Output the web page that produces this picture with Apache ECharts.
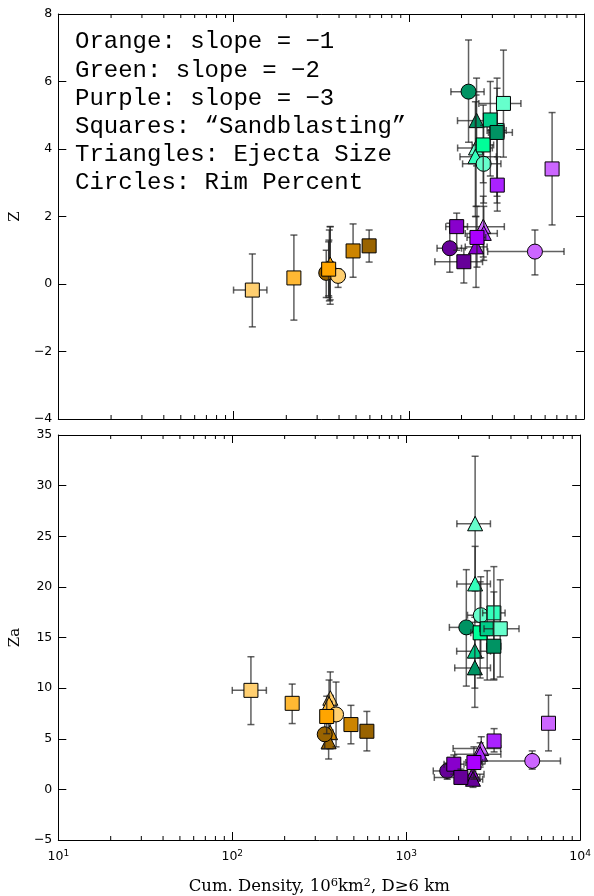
<!DOCTYPE html>
<html><head><meta charset="utf-8">
<script src="https://cdn.jsdelivr.net/npm/echarts@6/dist/echarts.min.js"></script>
<style>html,body{margin:0;padding:0;background:#fff}#c{width:594px;height:896px}</style>
</head><body><div id="c"></div>
<script>
// ---------- data ----------
const xMajorTicks = [10, 100, 1000, 10000];
const xMinorTicks = [20,30,40,50,60,70,80,90,200,300,400,500,600,700,800,900,2000,3000,4000,5000,6000,7000,8000,9000];
const zRange = [-4, 8, 2];
const zaRange = [-5, 35, 5];
const noteLines = ['Orange: slope = \u22121','Green: slope = \u22122','Purple: slope = \u22123','Squares: \u201cSandblasting\u201d','Triangles: Ejecta Size','Circles: Rim Percent'];
const groupNames = ['O1','O2','O3','O4','O5','G1','G2','G3','G4','G5','P1','P2','P3','P4','P5'];

// rows: [group, x, xlo, xhi, y, ylo, yhi]
const zTriangles = [
  ['O1',356,342,370,0.45,-0.6,1.7],
  ['O2',352,338,366,0.42,-0.5,1.6],
  ['O5',350,336,364,0.4,-0.4,1.3],
  ['O3',356,342,370,0.58,-0.47,1.7],
  ['G5',2437,1897,2757,4.84,3.5,6.1],
  ['G1',2420,1900,3000,4.03,2.3,5.6],
  ['G2',2400,1960,3160,3.77,2.0,5.4],
  ['P1',2661,1936,3510,1.7,0.8,2.6],
  ['P2',2680,2100,3200,1.5,0.7,2.3],
  ['P4',2420,2100,2800,1.1,-0.1,2.0]
];
const zCircles = [
  ['O5',338,322,354,0.33,-0.4,1.0],
  ['O1',395,382,408,0.24,-0.1,0.45],
  ['G5',2193,1740,2690,5.70,4.2,7.23],
  ['G1',2674,2028,3357,3.56,2.4,4.7],
  ['P5',1714,1450,2000,1.06,0.35,1.8],
  ['P1',5248,2820,7690,0.96,0.27,1.6]
];
const zSquares = [
  ['O1',128,100,155,-0.18,-1.27,0.89],
  ['O2',221,212,230,0.18,-1.07,1.45],
  ['O3',349,335,363,0.44,-0.35,1.25],
  ['O4',481,462,500,0.98,0.2,1.78],
  ['O5',594,575,613,1.13,0.65,1.6],
  ['G2',3190,2800,3600,4.55,2.6,6.1],
  ['G3',2661,2300,3050,4.12,3.0,5.3],
  ['G4',2920,2700,3150,4.86,3.2,6.0],
  ['G5',3190,2850,3900,4.49,2.4,5.8],
  ['G1',3470,2512,4365,5.35,3.76,6.93],
  ['P1',6575,6350,6800,3.41,1.75,5.08],
  ['P2',3200,3050,3350,2.93,2.16,3.77],
  ['P4',1877,1626,2163,1.70,1.0,2.1],
  ['P5',2062,1409,2637,0.66,0.03,1.06],
  ['P3',2450,2150,2750,1.38,0.5,2.3]
];

const zaTriangles = [
  ['O1',366,352,380,9.0,7.0,11.6],
  ['O2',360,346,374,8.4,6.8,10.8],
  ['O4',365,351,379,5.6,4.0,7.2],
  ['O5',358,344,372,4.7,3.0,6.5],
  ['G1',2489,1955,3048,26.23,19.6,32.9],
  ['G2',2489,1955,3048,20.29,16.5,24.0],
  ['G4',2480,1950,3050,13.65,10.0,17.0],
  ['G5',2480,1900,3050,12.0,8.1,15.5],
  ['P1',2700,1860,3490,4.03,2.5,5.2],
  ['P2',2660,1900,3500,3.47,2.2,4.6],
  ['P4',2420,2100,2800,1.5,0.4,2.6],
  ['P5',2420,2150,2750,1.0,0.2,1.8]
];
const zaCircles = [
  ['O5',340,325,355,5.44,4.0,7.0],
  ['O1',395,382,408,7.4,4.2,10.6],
  ['G5',2215,1770,2690,16.0,10.2,21.7],
  ['G1',2683,2250,3150,17.2,13.0,21.0],
  ['P5',1720,1430,2000,1.82,1.0,2.6],
  ['P1',5300,2840,7700,2.81,2.0,3.8]
];
const zaSquares = [
  ['O1',128,100,157,9.78,6.4,13.1],
  ['O2',221,212,230,8.5,6.5,10.4],
  ['O3',349,335,363,7.2,5.5,9.2],
  ['O4',481,462,500,6.4,4.5,8.3],
  ['O5',594,575,613,5.74,3.8,7.7],
  ['G2',3190,2750,3700,17.43,10.9,22.0],
  ['G3',2661,2350,3000,15.46,11.0,20.5],
  ['G4',2920,2650,3200,15.86,10.8,21.6],
  ['G1',3470,2800,4450,15.86,11.1,20.7],
  ['G5',3190,2900,3500,14.14,10.8,19.5],
  ['P1',6575,6350,6800,6.53,3.8,9.3],
  ['P2',3200,3050,3350,4.78,3.7,6.0],
  ['P4',1877,1650,2150,2.49,1.5,3.4],
  ['P5',2062,1450,2650,1.18,0.5,2.0],
  ['P3',2450,2200,2750,2.65,1.0,4.2]
];

// ---------- styles ----------
const groupColors = {
  O1:'#ffcf70', O2:'#ffb833', O3:'#ffa500', O4:'#cc8400', O5:'#996300',
  G1:'#66ffcc', G2:'#33ffbb', G3:'#00ff99', G4:'#00cc88', G5:'#009363',
  P1:'#cc66ff', P2:'#aa22ff', P3:'#aa00ff', P4:'#8800cc', P5:'#660099'
};
const SHAPES = ['triangle','circle','square'];

function build(tri, cir, sq) {
  const out = [];
  [tri, cir, sq].forEach((arr, si) => arr.forEach(r => {
    out.push([r[1], r[4], r[2], r[3], r[5], r[6], si, groupNames.indexOf(r[0])]);
  }));
  return out;
}

const ebStroke = 'rgba(35,35,35,0.72)';
function renderPoint(params, api) {
  const x = api.value(0), y = api.value(1);
  const xlo = api.value(2), xhi = api.value(3), ylo = api.value(4), yhi = api.value(5);
  const shape = SHAPES[api.value(6)];
  const color = groupColors[groupNames[api.value(7)]];
  const p = api.coord([x, y]);
  const pl = api.coord([xlo, y]), ph = api.coord([xhi, y]);
  const pb = api.coord([x, ylo]), pt = api.coord([x, yhi]);
  const cap = 3.5;
  const ls = {stroke: ebStroke, lineWidth: 1.5};
  const ch = [
    {type:'line', shape:{x1:pl[0], y1:p[1], x2:ph[0], y2:p[1]}, style:ls},
    {type:'line', shape:{x1:p[0], y1:pb[1], x2:p[0], y2:pt[1]}, style:ls},
    {type:'line', shape:{x1:pl[0], y1:p[1]-cap, x2:pl[0], y2:p[1]+cap}, style:ls},
    {type:'line', shape:{x1:ph[0], y1:p[1]-cap, x2:ph[0], y2:p[1]+cap}, style:ls},
    {type:'line', shape:{x1:p[0]-cap, y1:pb[1], x2:p[0]+cap, y2:pb[1]}, style:ls},
    {type:'line', shape:{x1:p[0]-cap, y1:pt[1], x2:p[0]+cap, y2:pt[1]}, style:ls}
  ];
  const ms = {fill: color, stroke:'#000', lineWidth:1};
  if (shape === 'square') ch.push({type:'rect', shape:{x:p[0]-7, y:p[1]-7, width:14, height:14}, style:ms});
  else if (shape === 'circle') ch.push({type:'circle', shape:{cx:p[0], cy:p[1], r:7.5}, style:ms});
  else ch.push({type:'polygon', shape:{points:[[p[0], p[1]-7.5],[p[0]-7.5, p[1]+7],[p[0]+7.5, p[1]+7]]}, style:ms});
  return {type:'group', children: ch};
}

function renderMinor(params, api) {
  const v = api.value(0);
  const cs = params.coordSys;
  const px = api.coord([v, api.value(1)])[0];
  const st = {stroke:'#000', lineWidth:1};
  return {type:'group', children:[
    {type:'line', shape:{x1:px, y1:cs.y+cs.height, x2:px, y2:cs.y+cs.height-4}, style:st},
    {type:'line', shape:{x1:px, y1:cs.y, x2:px, y2:cs.y+4}, style:st}
  ]};
}

const tickFont = {fontFamily:'DejaVu Sans', fontSize:12.5, color:'#000'};
const minus = v => String(v).replace('-', '\u2212');

function xAxisCfg(gi, pos, labels) {
  return {
    type:'log', logBase:10, min:xMajorTicks[0], max:xMajorTicks[xMajorTicks.length-1], gridIndex:gi, position:pos,
    axisLine:{show:true, onZero:false, lineStyle:{color:'#000', width:1}},
    axisTick:{show:true, inside:true, length:8, lineStyle:{color:'#000'}},
    splitLine:{show:false}, minorTick:{show:false},
    axisLabel:{show:labels, margin:9, ...tickFont,
      formatter: v => '{b|10}{s|' + Math.round(Math.log10(v)) + '}',
      rich:{b:{fontFamily:'DejaVu Sans', fontSize:12.5, color:'#000'}, s:{fontFamily:'DejaVu Sans', fontSize:9, color:'#000', verticalAlign:'top', padding:[0,0,6,0]}}}
  };
}
function yAxisCfg(gi, pos, range, labels, name) {
  return {
    type:'value', gridIndex:gi, position:pos, min:range[0], max:range[1], interval:range[2],
    axisLine:{show:true, onZero:false, lineStyle:{color:'#000', width:1}},
    axisTick:{show:true, inside:true, length:8, lineStyle:{color:'#000'}},
    splitLine:{show:false},
    axisLabel:{show:labels, margin:6, ...tickFont, formatter: minus},
    name: name || '', nameLocation:'middle', nameGap:30,
    nameTextStyle:{fontFamily:'DejaVu Serif', fontSize:15, color:'#000'}
  };
}

const chart = echarts.init(document.getElementById('c'), null, {renderer:'canvas'});
chart.setOption({
  animation:false,
  backgroundColor:'#fff',
  grid:[
    {left:58, top:14, width:526, height:405},
    {left:58, top:435, width:526, height:406}
  ],
  xAxis:[
    xAxisCfg(0,'bottom',false),
    xAxisCfg(0,'top',false),
    Object.assign(xAxisCfg(1,'bottom',true), {
      name:'Cum. Density, 10{s|6}km{s|2}, D\u22656 km', nameLocation:'middle', nameGap:37,
      nameTextStyle:{fontFamily:'DejaVu Serif', fontSize:16.5, color:'#000',
        rich:{s:{fontFamily:'DejaVu Serif', fontSize:11.5, color:'#000', verticalAlign:'top', padding:[0,0,7,0]}}}
    }),
    xAxisCfg(1,'top',false)
  ],
  yAxis:[
    yAxisCfg(0,'left',zRange,true,'Z'),
    yAxisCfg(0,'right',zRange,false),
    yAxisCfg(1,'left',zaRange,true,'Za'),
    yAxisCfg(1,'right',zaRange,false)
  ],
  graphic:[{type:'text', x:75, y:28, z:100, style:{text:noteLines.join('\n'), font:'24px "Liberation Mono"', lineHeight:28.2, fill:'#000'}}],
  series:[
    {type:'custom', xAxisIndex:0, yAxisIndex:0, renderItem:renderMinor, silent:true, clip:false,
      data: xMinorTicks.map(v => [v, zRange[0]])},
    {type:'custom', xAxisIndex:2, yAxisIndex:2, renderItem:renderMinor, silent:true, clip:false,
      data: xMinorTicks.map(v => [v, zaRange[0]])},
    {type:'custom', xAxisIndex:0, yAxisIndex:0, renderItem:renderPoint, clip:true,
      encode:{x:[0,2,3], y:[1,4,5]}, data: build(zTriangles, zCircles, zSquares)},
    {type:'custom', xAxisIndex:2, yAxisIndex:2, renderItem:renderPoint, clip:true,
      encode:{x:[0,2,3], y:[1,4,5]}, data: build(zaTriangles, zaCircles, zaSquares)}
  ]
});
</script></body></html>
